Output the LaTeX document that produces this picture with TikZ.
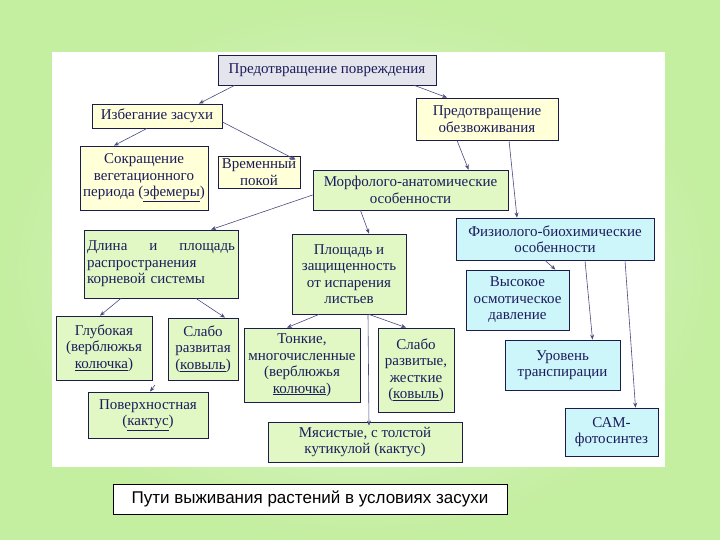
\documentclass[tikz,border=0pt]{standalone}
\usepackage{fontspec}
\setmainfont{Liberation Serif}
\newfontfamily\capfont{Liberation Sans}
\usetikzlibrary{arrows.meta}
\definecolor{bgg}{HTML}{C4EEA0}
\definecolor{boxy}{HTML}{FFFFD8}
\definecolor{boxg}{HTML}{E2F8C4}
\definecolor{boxc}{HTML}{CCF6FA}
\definecolor{boxgr}{HTML}{E4E4EC}
\definecolor{txt}{HTML}{1C1C5C}
\definecolor{edge}{HTML}{1C1C4C}
\definecolor{arr}{HTML}{4A4A80}
\tikzset{
 bx/.style={draw=edge,line width=0.8pt,text=txt,align=center,inner sep=1pt,font=\fontsize{15}{16.5}\selectfont},
 ar/.style={draw=arr,line width=0.6pt,-{Stealth[length=5pt,width=4pt]}}
}
\newcommand{\bbox}[7]{\node[bx,fill=#6,minimum width=#3pt-#1pt,minimum height=#4pt-#2pt] (#7) at ({(#1+#3)/2},{(#2+#4)/2})}
\begin{document}
\begin{tikzpicture}[x=1pt,y=-1pt]
\useasboundingbox (0,0) rectangle (720,540);
\shade[inner color=bgg!40,outer color=bgg] (0,0) rectangle (720,540);
\fill[white] (52,52) rectangle (665,467);
\bbox{218}{55}{436}{85}{}{boxgr}{top} {Предотвращение повреждения};
\bbox{92}{104}{222}{128}{}{boxy}{izb} {Избегание засухи};
\bbox{416}{98}{558}{140}{}{boxy}{obez} {Предотвращение\\обезвоживания};
\bbox{80}{146}{208}{210}{}{boxy}{sokr} {Сокращение\\вегетационного\\периода (\underline{эфемеры})};
\bbox{218}{156}{300}{188}{}{boxy}{vrem} {Временный\\покой};
\bbox{313}{170}{508}{210}{}{boxg}{morf} {Морфолого-анатомические\\особенности};
\bbox{456}{218}{654}{260}{}{boxc}{fiz} {Физиолого-биохимические\\особенности};
\node[bx,fill=boxg,minimum width=154pt,minimum height=68pt,text width=148pt,align=left] (dl) at (161,264) {Длина\hfill и\hfill площадь\\распространения\\корневой системы};
\bbox{292}{234}{406}{314}{}{boxg}{pl} {Площадь и\\защищенность\\от испарения\\листьев};
\bbox{466}{270}{569}{330}{}{boxc}{vys} {Высокое\\осмотическое\\давление};
\bbox{56}{316}{152}{380}{}{boxg}{gl} {Глубокая\\(верблюжья\\\underline{колючка})};
\bbox{168}{318}{238}{380}{}{boxg}{sl} {Слабо\\развитая\\(\underline{ковыль})};
\bbox{244}{328}{360}{402}{}{boxg}{ton} {Тонкие,\\многочисленные\\(верблюжья\\\underline{колючка})};
\bbox{378}{328}{454}{412}{}{boxg}{slr} {Слабо\\развитые,\\жесткие\\(\underline{ковыль})};
\bbox{505}{340}{620}{390}{}{boxc}{ur} {Уровень\\транспирации};
\bbox{88}{392}{208}{438}{}{boxg}{pov} {Поверхностная\\(\underline{кактус})};
\bbox{268}{422}{462}{462}{}{boxg}{mya} {Мясистые, с толстой\\кутикулой (кактус)};
\bbox{565}{408}{658}{456}{}{boxc}{cam} {САМ-\\фотосинтез};
\node[draw=black,fill=white,line width=0.5pt,minimum width=394pt,minimum height=30pt,font=\capfont\fontsize{17}{19}\selectfont] (cap) at (310,499) {Пути выживания растений в условиях засухи};
\draw[ar] ([xshift=17pt]top.south west) -- ([xshift=42pt]izb.north);
\draw[ar] ([xshift=-22pt]top.south east) -- ([xshift=-40pt]obez.north);
\draw[ar] ([xshift=-10pt]izb.south) -- ([xshift=-30pt]sokr.north);
\draw[ar] ([yshift=-6pt]izb.east) -- ([xshift=-5pt,yshift=-4pt]vrem.north east);
\draw[ar] ([xshift=-30pt]obez.south) -- ([xshift=58pt]morf.north);
\draw[ar] ([xshift=22pt]obez.south) -- ([xshift=-38pt]fiz.north);
\draw[ar] ([yshift=-5pt]morf.west) -- ([xshift=50pt]dl.north);
\draw[ar] ([xshift=-50pt]morf.south) -- ([xshift=20pt]pl.north);
\draw[ar] ([xshift=-40pt]dl.south) -- ([xshift=-4pt]gl.north);
\draw[ar] ([xshift=35pt]dl.south) -- ([xshift=22pt]sl.north);
\draw[ar] ([xshift=-30pt]pl.south) -- ([xshift=-15pt]ton.north);
\draw[ar] ([xshift=20pt]pl.south) -- ([xshift=-10pt]slr.north);
\draw[ar] ([xshift=19pt]pl.south) -- ([xshift=4pt,yshift=-4pt]mya.north);
\coordinate (glx) at (155,385);
\draw[ar] (glx) -- ([xshift=2pt]pov.north);
\draw[ar] ([xshift=-10pt]fiz.south) -- ([xshift=-14pt]vys.north east);
\draw[ar] ([xshift=30pt]fiz.south) -- ([xshift=30pt]ur.north);
\draw[ar] ([xshift=70pt]fiz.south) -- ([xshift=24pt]cam.north);
\end{tikzpicture}
\end{document}
